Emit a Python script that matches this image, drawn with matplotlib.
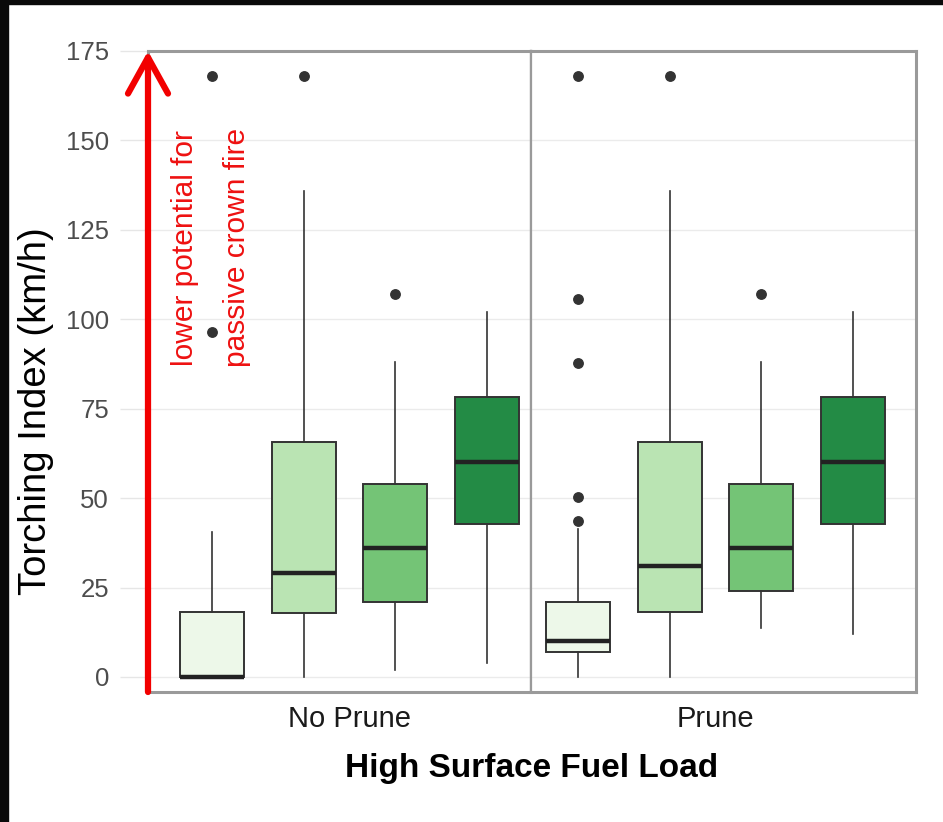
import matplotlib
matplotlib.use("Agg")
import matplotlib.pyplot as plt
from matplotlib.patches import Rectangle

plt.rcParams['font.family'] = ['Liberation Sans', 'DejaVu Sans']

# ---- data ----
panels = ["No Prune", "Prune"]
groups = ["g1", "g2", "g3", "g4"]
colors = ["#edf8e9", "#bae4b3", "#74c476", "#238b45"]

# per panel, per group: (whisker_low, q1, median, q3, whisker_high)
stats_noprune = [
    (0.0, 0.0, 0.0, 18.2, 40.4),
    (0.0, 17.9, 29.0, 65.7, 136.0),
    (2.0, 21.0, 36.0, 54.0, 88.1),
    (4.0, 42.8, 60.0, 78.4, 102.0),
]
stats_prune = [
    (0.0, 7.0, 10.0, 21.0, 41.3),
    (0.0, 18.1, 31.0, 65.7, 136.0),
    (13.7, 24.0, 36.0, 54.0, 88.1),
    (12.0, 42.8, 60.0, 78.4, 102.0),
]
outliers_noprune = [[96.5, 168.0], [168.0], [107.0], []]
outliers_prune = [[43.7, 50.3, 87.9, 105.6, 168.0], [168.0], [107.0], []]

yticks = [0, 25, 50, 75, 100, 125, 150, 175]
ylabel = "Torching Index (km/h)"
xlabel = "High Surface Fuel Load"
annot_line1 = "lower potential for"
annot_line2 = "passive crown fire"

# ---- figure ----
W, H = 943, 822
fig = plt.figure(figsize=(W / 100, H / 100), dpi=100, facecolor="white")
# black frame strips (top / left) seen in the reference
fig.patches.append(Rectangle((0, 1 - 4 / H), 1, 4 / H, transform=fig.transFigure,
                             color="#0a0a0a", zorder=-10))
fig.patches.append(Rectangle((0, 0), 8 / W, 1, transform=fig.transFigure,
                             color="#0a0a0a", zorder=-10))

px_unit = 91.7
left_px, mid_px, right_px = 148, 531, 916
top_px, bot_px = 51, 692
ax_bottom = 1 - bot_px / H
ax_height = (bot_px - top_px) / H

ax1 = fig.add_axes([left_px / W, ax_bottom, (mid_px - left_px) / W, ax_height])
ax2 = fig.add_axes([mid_px / W, ax_bottom, (right_px - mid_px) / W, ax_height], sharey=ax1)

first_center_px = [64, 47]
panel_w_px = [mid_px - left_px, right_px - mid_px]

for i, (ax, stats, outs, name) in enumerate(zip(
        [ax1, ax2], [stats_noprune, stats_prune],
        [outliers_noprune, outliers_prune], panels)):
    positions = [1, 2, 3, 4]
    bxp_stats = []
    for (wl, q1, med, q3, wh), fl in zip(stats, outs):
        bxp_stats.append(dict(whislo=wl, q1=q1, med=med, q3=q3, whishi=wh, fliers=fl))
    bp = ax.bxp(bxp_stats, positions=positions, widths=0.7, patch_artist=True,
                showcaps=False, showfliers=True,
                boxprops=dict(edgecolor="#333333", linewidth=1.4),
                whiskerprops=dict(color="#333333", linewidth=1.2),
                medianprops=dict(color="#222222", linewidth=3.2),
                flierprops=dict(marker="o", markersize=6.8, markerfacecolor="#333333",
                                markeredgecolor="#333333", linestyle="none"))
    for patch, c in zip(bp["boxes"], colors):
        patch.set_facecolor(c)
    lo = 1 - first_center_px[i] / px_unit
    ax.set_xlim(lo, lo + panel_w_px[i] / px_unit)
    ax.set_xticks([2.5])
    ax.set_xticklabels([name], fontsize=21, color="#1a1a1a")
    ax.tick_params(axis="x", length=0, pad=9)
    ax.set_ylim(-4.2, 175)
    ax.set_yticks(yticks)
    ax.grid(axis="y", color="#ebebeb", linewidth=1.0, zorder=0)
    ax.set_axisbelow(True)
    for sp in ax.spines.values():
        sp.set_color("#9a9a9a")
        sp.set_linewidth(2.2)

ax1.tick_params(axis="y", length=20, width=1.0, color="#e6e6e6", labelsize=18.5,
                labelcolor="#4d4d4d", pad=8)
ax2.tick_params(axis="y", left=False, labelleft=False)
ax1.spines["right"].set_linewidth(1.6)
ax2.spines["left"].set_linewidth(1.6)

fig.text(36 / W, 1 - 411 / H, ylabel, fontsize=27.5, color="black",
         rotation=90, ha="center", va="center")
fig.text(0.5 * (left_px + right_px) / W, 1 - 768 / H, xlabel, fontsize=24,
         fontweight="bold", ha="center", va="center", color="black")

# red arrow along left edge
ax1.annotate("", xy=(0, 1), xycoords="axes fraction", xytext=(0, 0),
             textcoords="axes fraction",
             arrowprops=dict(arrowstyle="->,head_length=1.3,head_width=0.72",
                             color="#f20000", lw=4.5, shrinkA=0, shrinkB=0,
                             mutation_scale=20),
             annotation_clip=False, zorder=10)

ax1.text(0.302 + (185 - 148) / px_unit, 120, annot_line1, rotation=90, color="#ee1111",
         fontsize=21.5, ha="center", va="center")
ax1.text(0.302 + (237 - 148) / px_unit, 120, annot_line2, rotation=90, color="#ee1111",
         fontsize=21.5, ha="center", va="center")

fig.savefig("out.png", dpi=100, facecolor="white")
